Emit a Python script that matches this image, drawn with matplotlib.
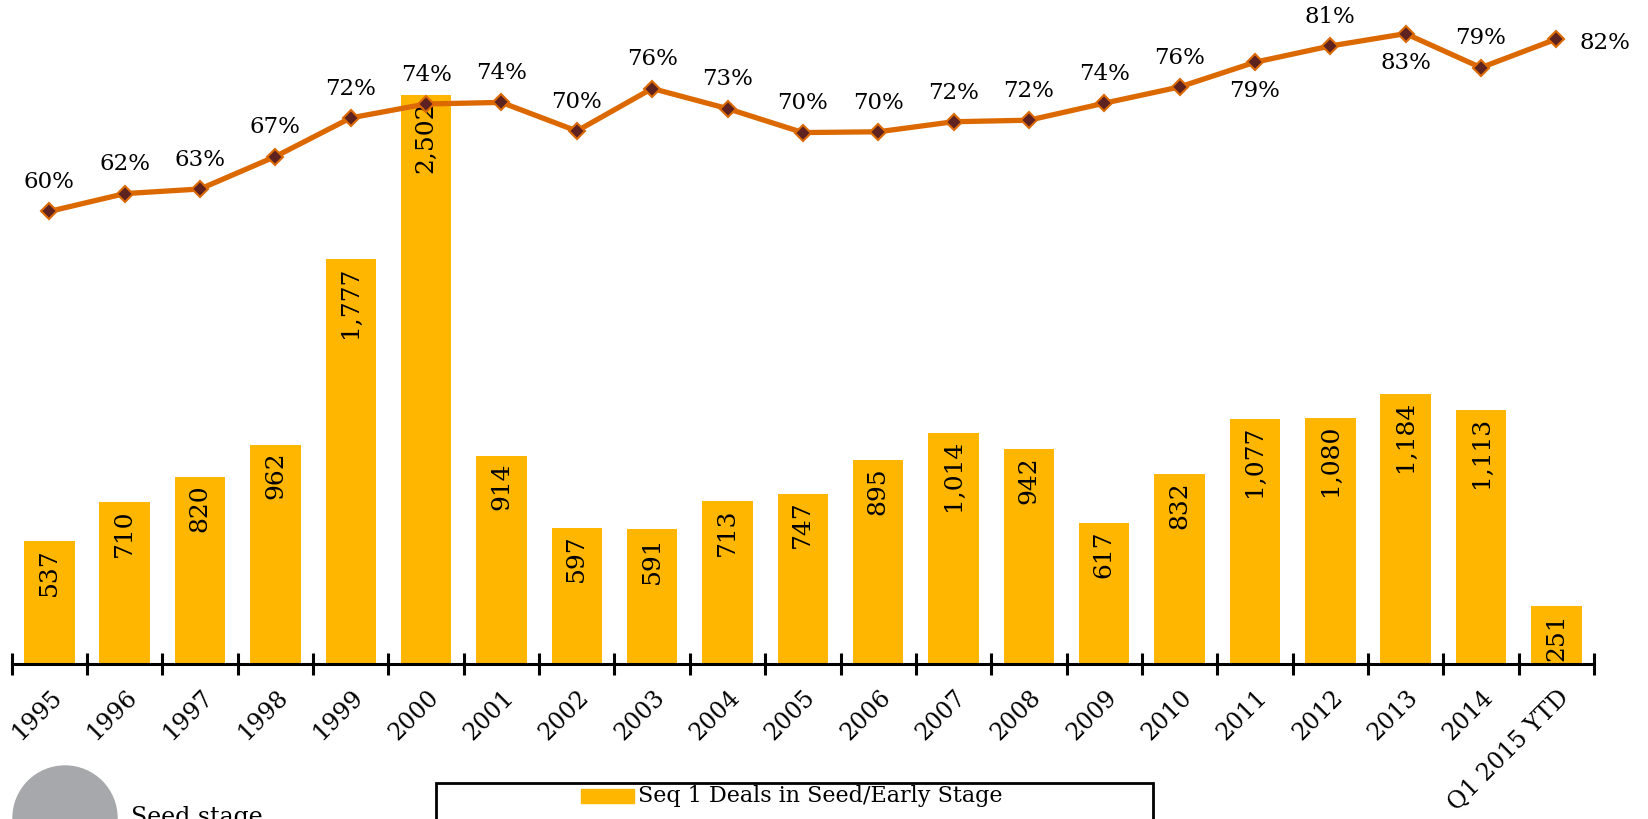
import matplotlib
matplotlib.use("Agg")
import matplotlib.pyplot as plt
from matplotlib.patches import Rectangle, Ellipse
from matplotlib.transforms import ScaledTranslation

# ---- data ----
categories = ["1995", "1996", "1997", "1998", "1999", "2000", "2001", "2002", "2003",
              "2004", "2005", "2006", "2007", "2008", "2009", "2010", "2011", "2012",
              "2013", "2014", "Q1 2015 YTD"]
deals = [537, 710, 820, 962, 1777, 2502, 914, 597, 591, 713, 747, 895, 1014, 942,
         617, 832, 1077, 1080, 1184, 1113, 251]
pct_seed_early = [60.0, 62.3, 62.9, 67.1, 72.1, 73.9, 74.1, 70.4, 75.9, 73.3, 70.2,
                  70.3, 71.6, 71.8, 74.0, 76.1, 79.3, 81.4, 83.0, 78.6, 82.3]
legend_label = "Seq 1 Deals in Seed/Early Stage"
side_label = "Seed stage"

W, H = 1648, 819
BAR_C = "#FFB600"
LINE_C = "#DC6900"
MARK_C = "#5E2320"
FONT = "DejaVu Serif"
FS = 16.5

plt.rcParams["font.family"] = [FONT, "DejaVu Sans"]

fig = plt.figure(figsize=(W / 100, H / 100), dpi=100)
ax = fig.add_axes([11.7 / W, 155.5 / H, (1594 - 11.7) / W, 663.5 / H])
x = list(range(len(categories)))

bars = ax.bar(x, deals, width=0.67, color=BAR_C, zorder=2)
ax.set_xlim(-0.5, len(categories) - 0.5)
ax.set_ylim(0, 2918)
for s in ["top", "right", "left"]:
    ax.spines[s].set_visible(False)
ax.spines["bottom"].set_linewidth(2.2)
ax.set_yticks([])

# bar value labels (rotated, inside top)
for xi, v in zip(x, deals):
    ax.annotate(f"{v:,}", (xi, v), xytext=(0, -5), textcoords="offset points",
                rotation=90, ha="center", va="top", fontsize=18, color="black",
                zorder=5)

# ticks: labels at centers, tick marks at boundaries
ax.set_xticks(x)
ax.set_xticklabels(categories, rotation=45, ha="right", va="center",
                   rotation_mode="anchor", fontsize=17)
ax.tick_params(axis="x", which="major", length=0, pad=22)
ax.set_xticks([i - 0.5 for i in range(len(categories) + 1)], minor=True)
ax.tick_params(axis="x", which="minor", direction="inout", length=16, width=2.2,
               color="black")
off = ScaledTranslation(0.09, 0, fig.dpi_scale_trans)
for lab in ax.get_xticklabels():
    lab.set_transform(lab.get_transform() + off)

# line on secondary axis
ax2 = ax.twinx()
ax2.set_ylim(1.51, 87.35)
ax2.set_yticks([])
for s in ax2.spines.values():
    s.set_visible(False)
ax2.plot(x, pct_seed_early, color=LINE_C, lw=3.8, marker="D", markersize=8.5,
         markerfacecolor=MARK_C, markeredgecolor=LINE_C, markeredgewidth=1.5,
         zorder=3)

below = {16, 18}
right = {len(categories) - 1}
for xi, v in zip(x, pct_seed_early):
    txt = f"{round(v)}%"
    if xi in right:
        ax2.annotate(txt, (xi, v), xytext=(17, -3), textcoords="offset points",
                     ha="left", va="center", fontsize=FS)
    elif xi in below:
        ax2.annotate(txt, (xi, v), xytext=(0, -21), textcoords="offset points",
                     ha="center", va="center", fontsize=FS)
    else:
        ax2.annotate(txt, (xi, v), xytext=(0, 21), textcoords="offset points",
                     ha="center", va="center", fontsize=FS)

# ---- bottom decorations (partially cut off in the reference) ----
def fx(px):
    return px / W

def fy(py):
    return 1 - py / H

circ = Ellipse((fx(65), fy(818)), 104 / W, 104 / H, color="#A7A8AB",
               transform=fig.transFigure)
fig.add_artist(circ)
fig.text(fx(131), fy(806), side_label, ha="left", va="top", fontsize=17)

box = Rectangle((fx(436), -0.1), fx(1153) - fx(436), fy(783) + 0.1, fill=False,
                ec="black", lw=2, transform=fig.transFigure)
fig.add_artist(box)
patch = Rectangle((fx(581), fy(803)), fx(634) - fx(581), fy(789) - fy(803),
                  color=BAR_C, transform=fig.transFigure)
fig.add_artist(patch)
fig.text(fx(638), fy(796), legend_label, ha="left", va="center", fontsize=16)

fig.savefig("out.png", dpi=100)
